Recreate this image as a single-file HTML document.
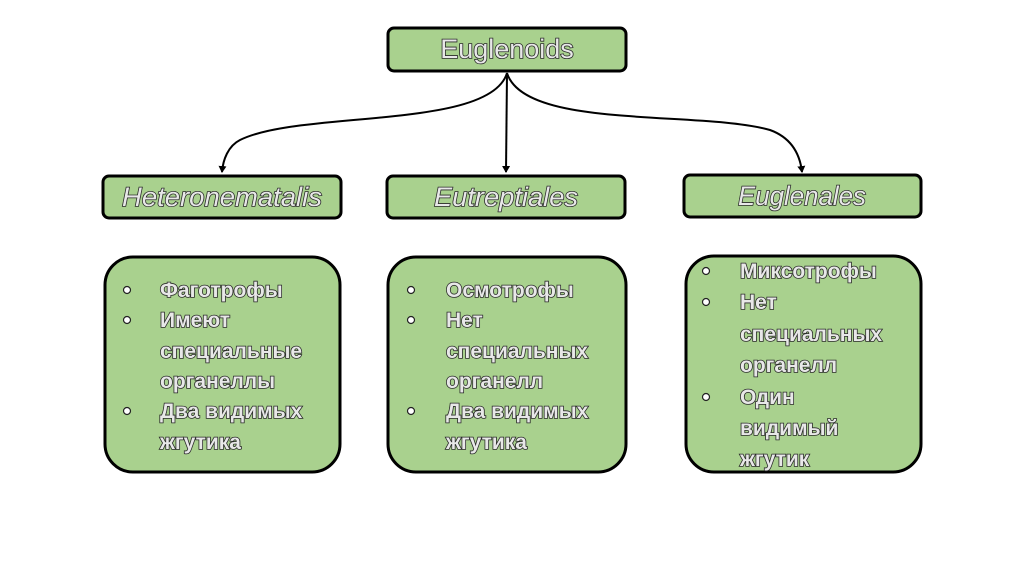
<!DOCTYPE html>
<html><head><meta charset="utf-8"><style>
html,body{margin:0;padding:0;background:#fff}
svg text{font-family:"Liberation Sans",sans-serif;fill:#e8e8e8;stroke:#2a2a2a;stroke-width:1.6px;paint-order:stroke}
</style></head><body>
<svg width="1024" height="574" viewBox="0 0 1024 574" xmlns="http://www.w3.org/2000/svg">
<defs>
<marker id="a" markerWidth="8" markerHeight="8" refX="6" refY="4" orient="auto" markerUnits="userSpaceOnUse">
<path d="M0,0 L7,4 L0,8 Z" fill="#000"/></marker>
</defs>
<g fill="#a9d18e" stroke="#000" stroke-width="3">
<rect x="388" y="28" width="238" height="43" rx="6"/>
<rect x="103" y="176" width="238" height="42" rx="6"/>
<rect x="387" y="176" width="238" height="42" rx="6"/>
<rect x="684" y="175" width="237" height="42" rx="6"/>
<rect x="105" y="257" width="235" height="215" rx="28"/>
<rect x="388" y="257" width="238" height="215" rx="28"/>
<rect x="686" y="256" width="235" height="216" rx="28"/>
</g>
<g fill="none" stroke="#000" stroke-width="2">
<path d="M507,73 C490,130 300,110 240,140 C228,146 223,160 222,172" marker-end="url(#a)"/>
<path d="M507,73 L506,172" marker-end="url(#a)"/>
<path d="M507,73 C525,130 700,110 770,130 C792,138 800,155 802,172" marker-end="url(#a)"/>
</g>
<text x="507" y="58" font-size="27" text-anchor="middle">Euglenoids</text>
<g font-size="27" font-style="italic" text-anchor="middle">
<text x="222" y="206" textLength="200" lengthAdjust="spacingAndGlyphs">Heteronematalis</text>
<text x="506" y="206" textLength="144" lengthAdjust="spacingAndGlyphs">Eutreptiales</text>
<text x="802" y="205" textLength="128" lengthAdjust="spacingAndGlyphs">Euglenales</text>
</g>
<g font-size="21" font-weight="bold">
<text x="160" y="297">Фаготрофы</text>
<text x="160" y="327">Имеют</text>
<text x="160" y="358">специальные</text>
<text x="160" y="388">органеллы</text>
<text x="160" y="418">Два видимых</text>
<text x="160" y="449">жгутика</text>
<text x="446" y="297">Осмотрофы</text>
<text x="446" y="327">Нет</text>
<text x="446" y="358">специальных</text>
<text x="446" y="388">органелл</text>
<text x="446" y="418">Два видимых</text>
<text x="446" y="449">жгутика</text>
<text x="740" y="278">Миксотрофы</text>
<text x="740" y="309">Нет</text>
<text x="740" y="341">специальных</text>
<text x="740" y="372">органелл</text>
<text x="740" y="404">Один</text>
<text x="740" y="435">видимый</text>
<text x="740" y="466">жгутик</text>
</g>
<g fill="#fff" stroke="#222" stroke-width="1.2">
<circle cx="127" cy="290" r="3.5"/><circle cx="127" cy="320" r="3.5"/><circle cx="127" cy="411" r="3.5"/>
<circle cx="411" cy="290" r="3.5"/><circle cx="411" cy="320" r="3.5"/><circle cx="411" cy="411" r="3.5"/>
<circle cx="706" cy="271" r="3.5"/><circle cx="706" cy="302" r="3.5"/><circle cx="706" cy="397" r="3.5"/>
</g>
</svg>
</body></html>
